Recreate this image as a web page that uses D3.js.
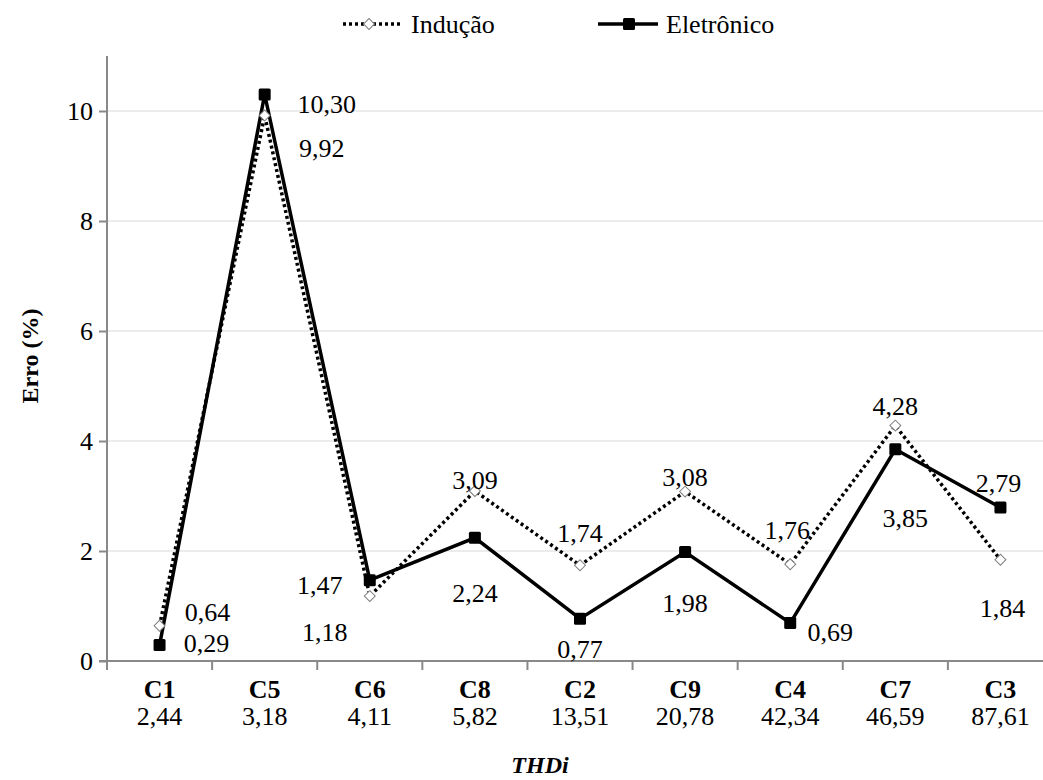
<!DOCTYPE html>
<html><head><meta charset="utf-8">
<script src="https://cdn.jsdelivr.net/npm/d3@7"></script>
<style>body{margin:0;background:#fff}svg{display:block}svg text{font-family:'Liberation Serif','DejaVu Serif','Noto Serif',serif !important;fill:#000}</style>
</head><body><svg id="c" width="1043" height="780"></svg>
<script>
const categories = ["C1","C5","C6","C8","C2","C9","C4","C7","C3"];
const thdi = ["2,44","3,18","4,11","5,82","13,51","20,78","42,34","46,59","87,61"];
const inducao = [0.64, 9.92, 1.18, 3.09, 1.74, 3.08, 1.76, 4.28, 1.84];
const eletronico = [0.29, 10.30, 1.47, 2.24, 0.77, 1.98, 0.69, 3.85, 2.79];
const yTicks = [0, 2, 4, 6, 8, 10];

// label placement offsets (layout only)
const indOff = [[48,-14],[57,32],[-45,36],[0,-11],[0,-32],[0,-15],[-3,-34],[0,-20],[2,48]];
const eleOff = [[47,-2],[62,9],[-50,5],[0,55],[0,30],[0,51],[40,9],[10,69],[-2,-25]];

(function(){
const FF = "'Liberation Serif','DejaVu Serif','Noto Serif',serif";
const svg = d3.select("#c").attr("font-family", FF);
const mLeft = 107, mRight = 1053, mTop = 56, mBottom = 661;
const x = d3.scaleBand().domain(categories).range([mLeft, mRight]).padding(0);
const cx = d => x(d) + x.bandwidth()/2;
const y = d3.scaleLinear().domain([0, 11]).range([mBottom, mTop]);
const fmt = v => v.toFixed(2).replace(".", ",");

svg.append("g").selectAll("line").data(yTicks.filter(t => t > 0)).join("line")
  .attr("x1", mLeft).attr("x2", 1043).attr("y1", d => y(d)).attr("y2", d => y(d))
  .attr("stroke", "#d9d9d9").attr("stroke-width", 1);

const ya = svg.append("g").attr("transform", `translate(${mLeft},0)`)
  .call(d3.axisLeft(y).tickValues(yTicks).tickSize(8).tickPadding(6).tickFormat(d => d));
ya.attr("font-family", FF);
ya.select(".domain").attr("stroke", "#898989").attr("stroke-width", 2).attr("d", `M0,${mTop}V${mBottom}`);
ya.selectAll(".tick line").attr("stroke", "#898989").attr("stroke-width", 2);
ya.selectAll(".tick text").attr("font-size", 26).attr("font-family", FF).attr("fill", "#000");

const xa = svg.append("g").attr("transform", `translate(0,${mBottom})`)
  .call(d3.axisBottom(x).tickSize(0).tickFormat(""));
xa.select(".domain").attr("stroke", "#898989").attr("stroke-width", 2).attr("d", `M${mLeft - 8},0H${mRight}`);
xa.selectAll(".tick").remove();
const bounds = categories.map(c => x(c)).concat([mRight]);
svg.append("g").selectAll("line").data(bounds).join("line")
  .attr("x1", d => d).attr("x2", d => d).attr("y1", mBottom).attr("y2", mBottom + 9)
  .attr("stroke", "#898989").attr("stroke-width", 2);

const cl = svg.append("g").selectAll("g").data(categories).join("g");
cl.append("text").attr("x", d => cx(d)).attr("y", 698).attr("text-anchor", "middle")
  .attr("font-size", 26).attr("font-weight", "bold").text(d => d);
cl.append("text").attr("x", d => cx(d)).attr("y", 725).attr("text-anchor", "middle")
  .attr("font-size", 26).text((d, i) => thdi[i]);

svg.append("text").attr("transform", "translate(38,356) rotate(-90)").attr("text-anchor", "middle")
  .attr("font-size", 24).attr("font-weight", "bold").text("Erro (%)");
svg.append("text").attr("x", 540).attr("y", 773).attr("text-anchor", "middle")
  .attr("font-size", 24).attr("font-weight", "bold").attr("font-style", "italic").text("THDi");

const line = d3.line().x((d, i) => cx(categories[i])).y(d => y(d));

svg.append("path").datum(inducao).attr("d", line).attr("fill", "none")
  .attr("stroke", "#000").attr("stroke-width", 3.5).attr("stroke-dasharray", "3,3");
svg.append("path").datum(eletronico).attr("d", line).attr("fill", "none")
  .attr("stroke", "#000").attr("stroke-width", 3.5);

svg.append("g").selectAll("path").data(inducao).join("path")
  .attr("transform", (d, i) => `translate(${cx(categories[i])},${y(d)}) rotate(45)`)
  .attr("d", d3.symbol().type(d3.symbolSquare).size(60))
  .attr("fill", "#fff").attr("stroke", "#7f7f7f").attr("stroke-width", 1);
svg.append("g").selectAll("rect").data(eletronico).join("rect")
  .attr("x", (d, i) => cx(categories[i]) - 6).attr("y", d => y(d) - 6)
  .attr("width", 12).attr("height", 12).attr("rx", 1.5).attr("fill", "#000");

svg.append("g").selectAll("text").data(inducao).join("text")
  .attr("x", (d, i) => cx(categories[i]) + indOff[i][0])
  .attr("y", (d, i) => y(d) + indOff[i][1]).attr("dy", "0.35em")
  .attr("text-anchor", "middle").attr("font-size", 26).text(d => fmt(d));
svg.append("g").selectAll("text").data(eletronico).join("text")
  .attr("x", (d, i) => cx(categories[i]) + eleOff[i][0])
  .attr("y", (d, i) => y(d) + eleOff[i][1]).attr("dy", "0.35em")
  .attr("text-anchor", "middle").attr("font-size", 26).text(d => fmt(d));

const lg = svg.append("g");
lg.append("line").attr("x1", 343).attr("x2", 403).attr("y1", 24).attr("y2", 24)
  .attr("stroke", "#000").attr("stroke-width", 3.5).attr("stroke-dasharray", "3,3");
lg.append("path").attr("transform", "translate(369,24) rotate(45)")
  .attr("d", d3.symbol().type(d3.symbolSquare).size(60))
  .attr("fill", "#fff").attr("stroke", "#7f7f7f").attr("stroke-width", 1);
lg.append("text").attr("x", 411).attr("y", 24).attr("dy", "0.35em").attr("font-size", 26).text("Indução");
lg.append("line").attr("x1", 598).attr("x2", 658).attr("y1", 24).attr("y2", 24)
  .attr("stroke", "#000").attr("stroke-width", 3.5);
lg.append("rect").attr("x", 623).attr("y", 18).attr("width", 12).attr("height", 12).attr("rx", 1.5).attr("fill", "#000");
lg.append("text").attr("x", 666).attr("y", 24).attr("dy", "0.35em").attr("font-size", 26).text("Eletrônico");
})();
</script></body></html>
